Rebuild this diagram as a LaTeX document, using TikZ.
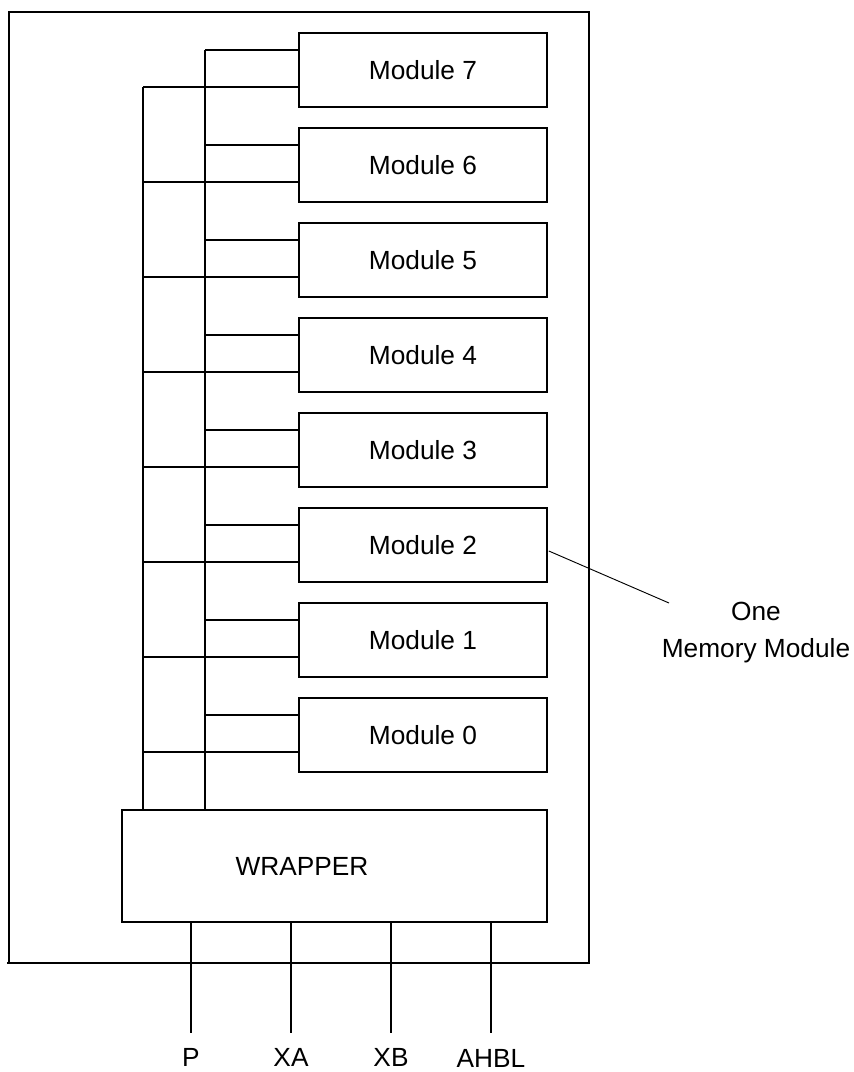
\documentclass[tikz,border=0pt]{standalone}
\usepackage{fontspec}
\setmainfont{Liberation Sans}
\usetikzlibrary{positioning, calc}

\tikzset{
  module/.style={draw, line width=1.25pt, minimum width=186pt, minimum height=55.5pt, inner sep=0pt},
  bus/.style={line width=1.25pt},
  pinlabel/.style={inner sep=0pt}
}

\begin{document}
\begin{tikzpicture}[x=0.75pt, y=-0.75pt, font=\fontsize{19.7}{27.75}\selectfont]
  \useasboundingbox (0,0) rectangle (854,1072);
  % outer frame
  \draw[bus] (7,963) -- (589,963) -- (589,12) -- (9,12) -- (9,963);

  % memory modules
  \foreach \i in {0,...,7}
    \node[module] (m\i) at (423,{70+(7-\i)*95}) {Module \i};

  % wrapper
  \node[module, minimum width=318.75pt, minimum height=84pt] (wrap) at (334.5,866) {};
  \node (wraptxt) at (302,866) {WRAPPER};

  % bus lines
  \coordinate (ibus) at (205,0);
  \coordinate (obus) at (143,0);
  \foreach \i in {0,...,7} {
    \draw[bus] ($(m\i.north west)+(0,18)$) coordinate (a\i) -- (a\i -| ibus);
    \draw[bus] ($(m\i.north west)+(0,55)$) coordinate (b\i) -- (b\i -| obus);
  }
  \draw[bus] (a7 -| ibus) -- (ibus |- wrap.north);
  \draw[bus] (b7 -| obus) -- (obus |- wrap.north);

  % pins
  \foreach \x/\name/\lab/\dy in {191/p/P/0, 291/xa/XA/0, 391/xb/XB/0, 491/ahbl/AHBL/1} {
    \coordinate (\name) at (\x,1033);
    \node[pinlabel] (\name lab) at (\x,{1057+\dy}) {\lab};
    \draw[bus] (wrap.south -| \name) -- (\name);
  }

  % pointer to one module
  \coordinate (tip) at (669,603);
  \node[align=center] (memtxt) at (756,633) {One\\Memory Module};
  \draw[line width=0.7pt] ($(m2.east)+(1,6)$) -- (tip);
\end{tikzpicture}
\end{document}
